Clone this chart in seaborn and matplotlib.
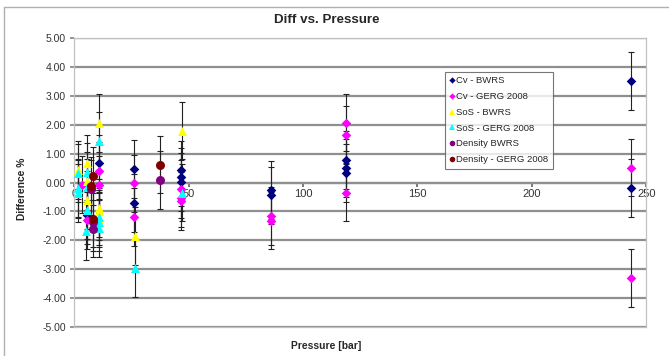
import matplotlib
matplotlib.use("Agg")
import matplotlib.pyplot as plt
import seaborn as sns
import pandas as pd
from matplotlib.lines import Line2D

sns.set_theme(style="white")
plt.rcParams['font.family'] = ['Liberation Sans', 'DejaVu Sans']

# ---- data ----
series_names = ["Cv - BWRS", "Cv - GERG 2008", "SoS - BWRS", "SoS - GERG 2008",
                "Density BWRS", "Density - GERG 2008"]

cv_bwrs_p = [5.6, 11.0, 25.9, 25.9, 46.8, 46.8, 46.8, 86.1, 86.1, 118.6, 118.6, 118.6, 243.2, 243.2]
cv_bwrs_d = [-1.13, 0.66, 0.47, -0.70, 0.43, 0.20, 0.02, -0.27, -0.45, 0.78, 0.50, 0.33, 3.52, -0.18]

cv_gerg_p = [3.4, 5.6, 11.0, 11.0, 25.9, 25.9, 46.8, 46.8, 46.8, 86.1, 86.1, 118.6, 118.6, 118.6, 243.2, 243.2]
cv_gerg_d = [-0.07, -1.30, 0.40, -0.07, -0.03, -1.20, -0.22, -0.55, -0.65, -1.15, -1.32, 2.08, 1.66, -0.35, 0.52, -3.30]

sos_bwrs_p = [1.5, 1.5, 5.4, 5.4, 5.4, 11.0, 11.0, 11.0, 11.0, 26.4, 47.1]
sos_bwrs_d = [0.43, -0.22, 0.66, 0.06, -0.60, 2.07, -0.88, -1.00, -1.25, -1.85, 1.80]

sos_gerg_p = [1.5, 1.5, 1.5, 5.4, 5.4, 5.4, 5.0, 11.0, 11.0, 11.0, 11.0, 26.4, 47.1]
sos_gerg_d = [0.33, -0.18, -0.37, 0.38, -0.17, -0.97, -1.68, 1.45, -1.18, -1.38, -1.57, -2.97, -0.35]

den_bwrs_p = [7.1, 8.4, 8.4, 37.5]
den_bwrs_d = [-0.22, -1.38, -1.60, 0.08]

den_gerg_p = [7.1, 8.4, 8.4, 37.5]
den_gerg_d = [-0.12, 0.22, -1.25, 0.62]

error_pct = 1.0

x_ticks = [0, 50, 100, 150, 200, 250]
y_ticks = [-5, -4, -3, -2, -1, 0, 1, 2, 3, 4, 5]

# ---- build table ----
parts = []
for name, p, d in zip(series_names,
                      [cv_bwrs_p, cv_gerg_p, sos_bwrs_p, sos_gerg_p, den_bwrs_p, den_gerg_p],
                      [cv_bwrs_d, cv_gerg_d, sos_bwrs_d, sos_gerg_d, den_bwrs_d, den_gerg_d]):
    parts.append(pd.DataFrame({"Pressure": p, "Diff": d, "Series": name}))
df = pd.concat(parts, ignore_index=True)

palette = {"Cv - BWRS": "#000080", "Cv - GERG 2008": "#FF00FF", "SoS - BWRS": "#FFFF00",
           "SoS - GERG 2008": "#00FFFF", "Density BWRS": "#800080",
           "Density - GERG 2008": "#800000"}
markers = {"Cv - BWRS": "D", "Cv - GERG 2008": "D", "SoS - BWRS": "^",
           "SoS - GERG 2008": "^", "Density BWRS": "o", "Density - GERG 2008": "o"}
sizes = {"D": 24, "^": 42, "o": 42}

fig = plt.figure(figsize=(6.69, 3.56), dpi=100)
ax = fig.add_axes([0.111, 0.0823, 0.855, 0.81])

# error bars
ax.errorbar(df["Pressure"], df["Diff"], yerr=error_pct, fmt="none",
            ecolor="#222222", elinewidth=0.8, capsize=2, capthick=0.8, zorder=2)

for name in series_names:
    sub = df[df["Series"] == name]
    m = markers[name]
    sns.scatterplot(data=sub, x="Pressure", y="Diff", color=palette[name], marker=m,
                    s=sizes[m], linewidth=0, ax=ax, zorder=3, legend=False)

ax.set_xlim(0, 250)
ax.set_ylim(-5, 5)
ax.set_yticks(y_ticks)
ax.set_yticklabels([f"{v:.2f}" for v in y_ticks], fontsize=7.5, color="#333333")
ax.grid(axis="y", color="#8f8f8f", linewidth=1.6, zorder=0)
ax.set_axisbelow(True)
for s in ax.spines.values():
    s.set_color("#c0c0c0")
    s.set_linewidth(0.9)
ax.tick_params(axis="y", length=3, color="#888888", pad=3, left=True)
ax.set_xticks([])
ax.set_xlabel("")
ax.set_ylabel("")

# x-axis crossing at y=0, labels below the line
sec = ax.secondary_xaxis(0.4999)
sec.xaxis.set_ticks_position("bottom")
sec.xaxis.set_label_position("bottom")
sec.set_xticks(x_ticks)
sec.set_xticklabels([str(v) for v in x_ticks], fontsize=8, color="#333333")
sec.tick_params(axis="x", length=3, direction="out", color="#666666", pad=2)
for side in ("top", "bottom"):
    sec.spines[side].set_color("#8f8f8f")
    sec.spines[side].set_linewidth(1.6)

fig.text(0.489, 0.944, "Diff vs. Pressure", ha="center", va="center",
         fontsize=9.6, fontweight="bold")
fig.text(0.487, 0.028, "Pressure [bar]", ha="center", va="center",
         fontsize=7.4, fontweight="bold")
fig.text(22 / 669, 0.47, "Difference %", ha="center", va="center", rotation=90,
         fontsize=7.4, fontweight="bold")

# legend
handles = []
for name in series_names:
    m = markers[name]
    handles.append(Line2D([0], [0], marker=m, linestyle="none", color=palette[name],
                          markersize=4 if m != "D" else 3.2, markeredgewidth=0))
leg = ax.legend(handles, series_names, loc="upper left", bbox_to_anchor=(0.648, 0.885),
                fontsize=6.8, frameon=True, fancybox=False, handlelength=0.5,
                handletextpad=0.15, borderpad=0.5, labelspacing=0.72, borderaxespad=0)
leg.get_frame().set_edgecolor("#555555")
leg.get_frame().set_linewidth(0.8)
leg.set_zorder(10)

# outer chart border (left & top visible)
fig.add_artist(Line2D([4 / 669, 4 / 669], [0, 1 - 7 / 356], transform=fig.transFigure,
                      color="#b0b0b0", linewidth=1))
fig.add_artist(Line2D([4 / 669, 1], [1 - 7 / 356, 1 - 7 / 356], transform=fig.transFigure,
                      color="#b0b0b0", linewidth=1))

fig.savefig("out.png", dpi=100)
